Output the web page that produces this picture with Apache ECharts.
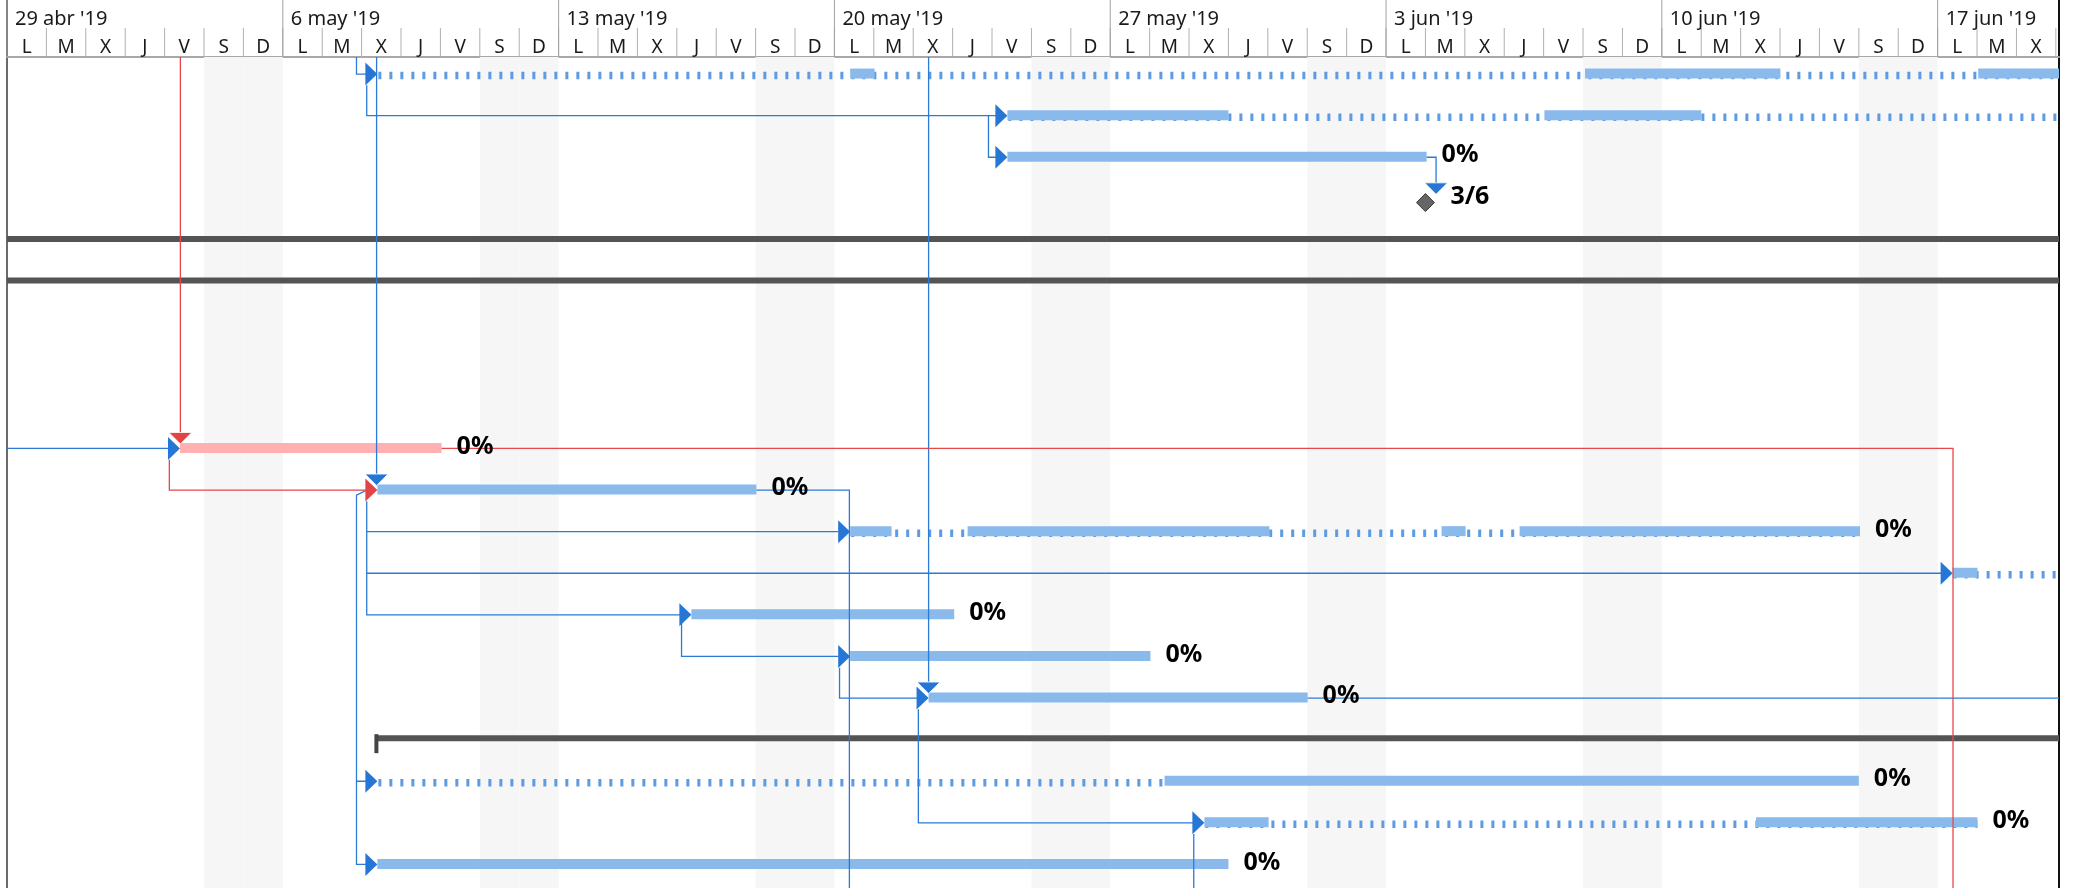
<!DOCTYPE html>
<html>
<head>
<meta charset="utf-8">
<script src="https://cdn.jsdelivr.net/npm/echarts@6/dist/echarts.min.js"></script>
<style>
  html, body { margin: 0; padding: 0; background: #fff; }
  #gantt { width: 2076px; height: 888px; }
</style>
</head>
<body>
<div id="gantt"></div>
<script>
// eje: días desde el lunes 29 abr 2019
const weekLabels = ["29 abr '19", "6 may '19", "13 may '19", "20 may '19", "27 may '19", "3 jun '19", "10 jun '19", "17 jun '19"];
const dayLetters = ['L', 'M', 'X', 'J', 'V', 'S', 'D'];
const dayCount = 52;
const dayMax = 52.08;
const rowMin = -0.41;
const rowMax = 19.566;

// tramos sólidos
const barRow  = [0, 0, 0, 1, 1, 2, 9, 10, 11, 11, 11, 11, 12, 13, 14, 15, 17, 18, 18, 19];
const barFrom = [21.40, 40.05, 50.03, 25.39, 39.02, 25.39, 4.39, 9.40, 21.40, 24.38, 36.41, 38.39, 49.38, 17.37, 21.40, 23.39, 29.38, 30.39, 44.39, 9.40];
const barTo   = [22.02, 45.01, 53.00, 31.00, 43.00, 36.03, 11.03, 19.02, 22.45, 32.04, 37.02, 47.03, 50.01, 24.04, 29.02, 33.01, 47.00, 32.02, 50.01, 31.00];
const critRows = [9];

// interrupciones (línea punteada)
const splitRow  = [0, 1, 11, 12, 17, 18];
const splitFrom = [9.40, 25.39, 21.40, 49.38, 9.40, 30.39];
const splitTo   = [53.00, 53.00, 47.03, 53.00, 29.38, 50.01];

// tareas resumen
const sumRow  = [4, 5, 16];
const sumFrom = [-1, -1, 9.35];
const sumTo   = [53, 53, 53];

// hito
const msRow = [3];
const msDay = [36.0];
const msText = ['3/6'];

// etiquetas de progreso
const pctRow  = [2, 9, 10, 11, 13, 14, 15, 17, 18, 19];
const pctText = ['0%', '0%', '0%', '0%', '0%', '0%', '0%', '0%', '0%', '0%'];

// flechas de vínculo
const arrowRow  = [0, 1, 2, 9, 10, 11, 12, 13, 14, 15, 17, 18, 19];
const arrowDay  = [9.40, 25.39, 25.39, 4.39, 9.40, 21.40, 49.38, 17.37, 21.40, 23.39, 9.40, 30.39, 9.40];
const arrowCrit = [0, 0, 0, 0, 1, 0, 0, 0, 0, 0, 0, 0, 0];
const dropRow  = [9, 10, 15, 3];
const dropDay  = [4.40, 9.38, 23.39, 36.27];
const dropCrit = [1, 0, 0, 0];

// trazado de vínculos [día, fila]
const linkPaths = [
  [[8.87, rowMin], [8.87, 0], [9.12, 0]],
  [[9.13, 0.27], [9.13, 1], [25.1, 1]],
  [[24.91, 1], [24.91, 2], [25.1, 2]],
  [[36.03, 2], [36.27, 2], [36.27, 2.62]],
  [[0, 9], [4.1, 9]],
  [[9.38, rowMin], [9.38, 9.64]],
  [[9.13, 10.27], [9.13, 13], [17.1, 13]],
  [[9.13, 11], [21.1, 11]],
  [[9.13, 12], [49.1, 12]],
  [[19.02, 10], [21.38, 10], [21.38, rowMax]],
  [[17.12, 13], [17.12, 14], [21.1, 14]],
  [[21.13, 14.27], [21.13, 15], [23.1, 15]],
  [[23.39, rowMin], [23.39, 14.64]],
  [[33.01, 15], [dayMax, 15]],
  [[23.13, 15.27], [23.13, 18], [30.1, 18]],
  [[30.12, 18.27], [30.12, rowMax]],
  [[9.13, 10], [8.87, 10.12], [8.87, 19], [9.12, 19]],
  [[8.87, 17], [9.12, 17]]
];
const critPaths = [
  [[4.40, rowMin], [4.40, 8.62]],
  [[4.12, 9.27], [4.12, 10], [9.12, 10]],
  [[11.03, 9], [49.39, 9], [49.39, rowMax]]
];

const blue = '#2b7bd6';
const red = '#e8474a';

const days = [];
for (let d = 0; d < dayCount; d++) days.push(d);
const weekends = days.filter(d => d % 7 >= 5);

const rowEnd = r => Math.max(...barTo.filter((t, i) => barRow[i] === r));

const chart = echarts.init(document.getElementById('gantt'));

const hideAxis = { axisTick: { show: false }, axisLabel: { show: false }, splitLine: { show: false } };
const pctFont = 'bold 25px "Noto Sans"';

chart.setOption({
  animation: false,
  grid: [
    { left: 7, right: 17, top: 0, height: 57 },
    { left: 7, right: 17, top: 57, bottom: 0 }
  ],
  xAxis: [
    { gridIndex: 0, type: 'value', min: 0, max: dayMax, axisLine: { show: true, onZero: false, lineStyle: { color: '#a8a8a8', width: 2 } }, ...hideAxis },
    { gridIndex: 1, type: 'value', min: 0, max: dayMax, axisLine: { show: false }, ...hideAxis }
  ],
  yAxis: [
    { gridIndex: 0, type: 'value', min: 0, max: 57, inverse: true, axisLine: { show: true, onZero: false, lineStyle: { color: '#6b6b6b', width: 2 } }, ...hideAxis },
    { gridIndex: 0, type: 'value', min: 0, max: 57, inverse: true, position: 'right', axisLine: { show: true, onZero: false, lineStyle: { color: '#111', width: 2 } }, ...hideAxis },
    { gridIndex: 1, type: 'value', min: rowMin, max: rowMax, inverse: true, axisLine: { show: true, onZero: false, lineStyle: { color: '#6b6b6b', width: 2 } }, ...hideAxis },
    { gridIndex: 1, type: 'value', min: rowMin, max: rowMax, inverse: true, position: 'right', axisLine: { show: true, onZero: false, lineStyle: { color: '#111', width: 2 } }, ...hideAxis }
  ],
  series: [
    // cabecera: días
    {
      type: 'custom', xAxisIndex: 0, yAxisIndex: 0, silent: true, z: 2,
      data: days.map(d => [d]),
      renderItem: (params, api) => {
        const d = api.value(0);
        const mid = api.coord([d + 0.5, 48]);
        const a = api.coord([d + 1, 28]);
        const b = api.coord([d + 1, 57]);
        return {
          type: 'group', children: [
            { type: 'text', x: mid[0], y: mid[1], style: { text: dayLetters[d % 7], fill: '#1a1a1a', font: '19px "Noto Sans"', align: 'center', verticalAlign: 'middle' } },
            { type: 'line', shape: { x1: a[0], y1: a[1], x2: b[0], y2: b[1] }, style: { stroke: '#b0b0b0', lineWidth: 1 } }
          ]
        };
      }
    },
    // cabecera: semanas
    {
      type: 'custom', xAxisIndex: 0, yAxisIndex: 0, silent: true, z: 2,
      data: weekLabels.map((w, i) => [i * 7]),
      renderItem: (params, api) => {
        const d = api.value(0);
        const t = api.coord([d, 19]);
        const a = api.coord([d, 0]);
        const b = api.coord([d, 57]);
        return {
          type: 'group', children: [
            { type: 'text', x: t[0] + 8, y: t[1], style: { text: weekLabels[params.dataIndex], fill: '#1a1a1a', font: '20px "Noto Sans"', align: 'left', verticalAlign: 'middle' } },
            { type: 'line', shape: { x1: a[0], y1: a[1], x2: b[0], y2: b[1] }, style: { stroke: '#a0a0a0', lineWidth: 1 } }
          ]
        };
      }
    },
    // fines de semana
    {
      type: 'custom', xAxisIndex: 1, yAxisIndex: 2, silent: true, clip: true, z: 1,
      data: weekends.map(d => [d]),
      renderItem: (params, api) => {
        const a = api.coord([api.value(0), rowMin]);
        const b = api.coord([api.value(0) + 1, rowMax]);
        return { type: 'rect', shape: { x: a[0], y: a[1], width: b[0] - a[0], height: b[1] - a[1] }, style: { fill: '#f6f6f6' } };
      }
    },
    // resumen
    {
      type: 'custom', xAxisIndex: 1, yAxisIndex: 2, silent: true, clip: true, z: 2,
      data: sumRow.map((r, i) => [r, sumFrom[i], sumTo[i]]),
      renderItem: (params, api) => {
        const a = api.coord([api.value(1), api.value(0)]);
        const b = api.coord([api.value(2), api.value(0)]);
        const y = a[1] - 4.5;
        const kids = [{ type: 'rect', shape: { x: a[0], y: y, width: b[0] - a[0], height: 6 }, style: { fill: '#545454' } }];
        if (api.value(1) > 0) {
          kids.push({ type: 'rect', shape: { x: a[0] - 1, y: y - 1, width: 4, height: 19 }, style: { fill: '#444' } });
        }
        return { type: 'group', children: kids };
      }
    },
    // punteado de interrupciones
    {
      type: 'custom', xAxisIndex: 1, yAxisIndex: 2, silent: true, clip: true, z: 3,
      data: splitRow.map((r, i) => [r, splitFrom[i], splitTo[i]]),
      renderItem: (params, api) => {
        const a = api.coord([api.value(1), api.value(0)]);
        const b = api.coord([api.value(2), api.value(0)]);
        return { type: 'line', shape: { x1: a[0] + 1, y1: a[1] + 1.5, x2: b[0], y2: b[1] + 1.5 }, style: { stroke: '#5e9be2', lineWidth: 7.5, lineDash: [3, 8] } };
      }
    },
    // barras
    {
      type: 'custom', xAxisIndex: 1, yAxisIndex: 2, silent: true, clip: true, z: 4,
      data: barRow.map((r, i) => [r, barFrom[i], barTo[i]]),
      renderItem: (params, api) => {
        const r = api.value(0);
        const a = api.coord([api.value(1), r]);
        const b = api.coord([api.value(2), r]);
        const crit = critRows.indexOf(r) >= 0;
        return { type: 'rect', shape: { x: a[0], y: a[1] - 5.5, width: b[0] - a[0], height: 10 }, style: { fill: crit ? '#ffb1b1' : '#8ab9eb' } };
      }
    },
    // vínculos
    {
      type: 'lines', coordinateSystem: 'cartesian2d', xAxisIndex: 1, yAxisIndex: 2, polyline: true, silent: true, z: 5,
      data: linkPaths.map(p => ({ coords: p })),
      lineStyle: { color: blue, width: 1.3, opacity: 1, curveness: 0 }
    },
    {
      type: 'lines', coordinateSystem: 'cartesian2d', xAxisIndex: 1, yAxisIndex: 2, polyline: true, silent: true, z: 5,
      data: critPaths.map(p => ({ coords: p })),
      lineStyle: { color: red, width: 1.3, opacity: 1, curveness: 0 }
    },
    // flechas hacia la derecha
    {
      type: 'custom', xAxisIndex: 1, yAxisIndex: 2, silent: true, z: 6,
      data: arrowRow.map((r, i) => [r, arrowDay[i], arrowCrit[i]]),
      renderItem: (params, api) => {
        const p = api.coord([api.value(1), api.value(0)]);
        return { type: 'polygon', shape: { points: [[p[0] - 12, p[1] - 11.5], [p[0], p[1]], [p[0] - 12, p[1] + 11.5]] }, style: { fill: api.value(2) ? '#e04444' : '#2676d6' } };
      }
    },
    // flechas hacia abajo
    {
      type: 'custom', xAxisIndex: 1, yAxisIndex: 2, silent: true, z: 7,
      data: dropRow.map((r, i) => [r, dropDay[i], dropCrit[i]]),
      renderItem: (params, api) => {
        const p = api.coord([api.value(1), api.value(0)]);
        const y = p[1] - 4.5;
        return { type: 'polygon', shape: { points: [[p[0] - 11.5, y - 11.5], [p[0] + 11.5, y - 11.5], [p[0], y]] }, style: { fill: api.value(2) ? '#e04444' : '#2676d6', stroke: '#fff', lineWidth: 0.8 } };
      }
    },
    // hito
    {
      type: 'custom', xAxisIndex: 1, yAxisIndex: 2, silent: true, z: 7,
      data: msRow.map((r, i) => [r, msDay[i]]),
      renderItem: (params, api) => {
        const p = api.coord([api.value(1), api.value(0)]);
        const y = p[1] + 3.7;
        return {
          type: 'group', children: [
            { type: 'polygon', shape: { points: [[p[0], y - 9], [p[0] + 9, y], [p[0], y + 9], [p[0] - 9, y]] }, style: { fill: '#666', stroke: '#3a3a3a', lineWidth: 1 } },
            { type: 'text', x: p[0] + 25, y: p[1] - 2, style: { text: msText[params.dataIndex], fill: '#000', font: pctFont, align: 'left', verticalAlign: 'middle' } }
          ]
        };
      }
    },
    // porcentajes
    {
      type: 'custom', xAxisIndex: 1, yAxisIndex: 2, silent: true, z: 8,
      data: pctRow.map(r => [r, rowEnd(r)]),
      renderItem: (params, api) => {
        const p = api.coord([api.value(1), api.value(0)]);
        return { type: 'text', x: p[0] + 15, y: p[1] - 2, style: { text: pctText[params.dataIndex], fill: '#000', font: pctFont, align: 'left', verticalAlign: 'middle' } };
      }
    }
  ]
});
</script>
</body>
</html>
